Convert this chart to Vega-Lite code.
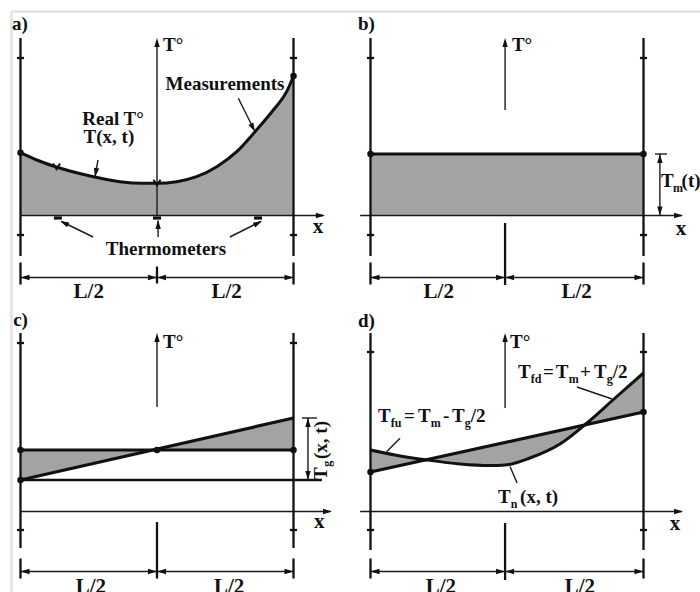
{
"$schema": "https://vega.github.io/schema/vega-lite/v6.json",
"padding": 0,
"background": "white",
"bounds": "flush",
"data": {"values": [
{"p":"a","k":"border","x":-0.033,"y":20.4,"x2":1.207,"y2":20.4},
{"p":"a","k":"border","x":-0.033,"y":20.4,"x2":-0.033,"y2":-8.05},
{"p":"b","k":"border","x":-0.075,"y":20.4,"x2":1.207,"y2":20.4},
{"p":"c","k":"border","x":-0.033,"y":21.55,"x2":-0.033,"y2":-8.05},

{"p":"a","k":"fill","x":0,"y":6.28,"y2":0},
{"p":"a","k":"fill","x":0.059,"y":5.55,"y2":0},
{"p":"a","k":"fill","x":0.12,"y":4.95,"y2":0},
{"p":"a","k":"fill","x":0.181,"y":4.45,"y2":0},
{"p":"a","k":"fill","x":0.267,"y":3.88,"y2":0},
{"p":"a","k":"fill","x":0.364,"y":3.38,"y2":0},
{"p":"a","k":"fill","x":0.45,"y":3.22,"y2":0},
{"p":"a","k":"fill","x":0.499,"y":3.22,"y2":0},
{"p":"a","k":"fill","x":0.572,"y":3.38,"y2":0},
{"p":"a","k":"fill","x":0.645,"y":3.88,"y2":0},
{"p":"a","k":"fill","x":0.719,"y":4.88,"y2":0},
{"p":"a","k":"fill","x":0.792,"y":6.38,"y2":0},
{"p":"a","k":"fill","x":0.859,"y":8.38,"y2":0},
{"p":"a","k":"fill","x":0.926,"y":10.55,"y2":0},
{"p":"a","k":"fill","x":0.975,"y":12.38,"y2":0},
{"p":"a","k":"fill","x":1,"y":13.95,"y2":0},
{"p":"a","k":"curve","x":0,"y":6.28},
{"p":"a","k":"curve","x":0.059,"y":5.55},
{"p":"a","k":"curve","x":0.12,"y":4.95},
{"p":"a","k":"curve","x":0.181,"y":4.45},
{"p":"a","k":"curve","x":0.267,"y":3.88},
{"p":"a","k":"curve","x":0.364,"y":3.38},
{"p":"a","k":"curve","x":0.45,"y":3.22},
{"p":"a","k":"curve","x":0.499,"y":3.22},
{"p":"a","k":"curve","x":0.572,"y":3.38},
{"p":"a","k":"curve","x":0.645,"y":3.88},
{"p":"a","k":"curve","x":0.719,"y":4.88},
{"p":"a","k":"curve","x":0.792,"y":6.38},
{"p":"a","k":"curve","x":0.859,"y":8.38},
{"p":"a","k":"curve","x":0.926,"y":10.55},
{"p":"a","k":"curve","x":0.975,"y":12.38},
{"p":"a","k":"curve","x":1,"y":13.95},
{"p":"a","k":"wall","x":0,"y":17.75,"x2":0,"y2":-4.05},
{"p":"a","k":"wall","x":1,"y":17.75,"x2":1,"y2":-4.05},
{"p":"a","k":"wall","x":-0.013,"y":15.75,"x2":0.013,"y2":15.75},
{"p":"a","k":"wall","x":0.987,"y":15.75,"x2":1.013,"y2":15.75},
{"p":"a","k":"wall","x":-0.013,"y":-1.95,"x2":0.013,"y2":-1.95},
{"p":"a","k":"wall","x":0.987,"y":-1.95,"x2":1.013,"y2":-1.95},
{"p":"a","k":"wall","x":0,"y":-4.7,"x2":0,"y2":-6.9},
{"p":"a","k":"wall","x":1,"y":-4.7,"x2":1,"y2":-6.9},
{"p":"a","k":"wall","x":0.5,"y":-5.1,"x2":0.5,"y2":-6.8},
{"p":"a","k":"thin","x":0,"y":0,"x2":1.11,"y2":0},
{"p":"a","k":"thin","x":0.5,"y":0,"x2":0.5,"y2":17.4},
{"p":"a","k":"thin","x":0,"y":-6.2,"x2":1,"y2":-6.2},
{"p":"a","k":"thin","x":0.284,"y":5.55,"x2":0.273,"y2":3.95},
{"p":"a","k":"thin","x":0.798,"y":11.72,"x2":0.855,"y2":8.6},
{"p":"a","k":"thin","x":0.266,"y":-2.15,"x2":0.15,"y2":-0.6},
{"p":"a","k":"thin","x":0.504,"y":-2.15,"x2":0.504,"y2":-0.5},
{"p":"a","k":"thin","x":0.767,"y":-2.15,"x2":0.88,"y2":-0.6},
{"p":"a","k":"head","x":1.115,"y":0,"a":90},
{"p":"a","k":"head","x":0.5,"y":17.75,"a":0},
{"p":"a","k":"head","x":0,"y":-6.2,"a":270},
{"p":"a","k":"head","x":0.5,"y":-6.2,"a":90},
{"p":"a","k":"head","x":0.5,"y":-6.2,"a":270},
{"p":"a","k":"head","x":1,"y":-6.2,"a":90},
{"p":"a","k":"head","x":0.273,"y":3.85,"a":190},
{"p":"a","k":"head","x":0.859,"y":8.38,"a":153},
{"p":"a","k":"head","x":0.145,"y":-0.55,"a":296},
{"p":"a","k":"head","x":0.504,"y":-0.45,"a":0},
{"p":"a","k":"head","x":0.885,"y":-0.55,"a":63},
{"p":"a","k":"dot","x":0,"y":6.28},
{"p":"a","k":"dot","x":1,"y":13.95},
{"p":"a","k":"xmark","x":0.132,"y":4.85},
{"p":"a","k":"xmark","x":0.5,"y":3.22},
{"p":"a","k":"sensor","x":0.137,"y":-0.25},
{"p":"a","k":"sensor","x":0.5,"y":-0.25},
{"p":"a","k":"sensor","x":0.87,"y":-0.25},
{"p":"a","k":"tc","x":0.339,"y":9.05,"t":"Real T°"},
{"p":"a","k":"tc","x":0.324,"y":7.25,"t":"T(x, t)"},
{"p":"a","k":"tc","x":0.749,"y":12.55,"t":"Measurements"},
{"p":"a","k":"tc","x":0.533,"y":-3.95,"t":"Thermometers"},
{"p":"a","k":"tl","x":0.522,"y":16.45,"t":"T°"},
{"p":"a","k":"tl","x":-0.031,"y":18.55,"t":"a)"},
{"p":"a","k":"big","x":0.25,"y":-8.2,"t":"L/2"},
{"p":"a","k":"big","x":0.755,"y":-8.2,"t":"L/2"},
{"p":"a","k":"big","x":1.09,"y":-1.75,"t":"x"},

{"p":"b","k":"fill","x":0,"y":6.15,"y2":0},
{"p":"b","k":"fill","x":1,"y":6.15,"y2":0},
{"p":"b","k":"wall","x":0,"y":17.75,"x2":0,"y2":-4.05},
{"p":"b","k":"wall","x":1,"y":17.75,"x2":1,"y2":-4.05},
{"p":"b","k":"wall","x":-0.013,"y":15.75,"x2":0.013,"y2":15.75},
{"p":"b","k":"wall","x":0.987,"y":15.75,"x2":1.013,"y2":15.75},
{"p":"b","k":"wall","x":-0.013,"y":-1.95,"x2":0.013,"y2":-1.95},
{"p":"b","k":"wall","x":0.987,"y":-1.95,"x2":1.013,"y2":-1.95},
{"p":"b","k":"wall","x":0,"y":-4.7,"x2":0,"y2":-6.9},
{"p":"b","k":"wall","x":1,"y":-4.7,"x2":1,"y2":-6.9},
{"p":"b","k":"wall","x":0.493,"y":-0.75,"x2":0.493,"y2":-6.95},
{"p":"b","k":"thin","x":-0.038,"y":0,"x2":1.14,"y2":0},
{"p":"b","k":"thin","x":0.493,"y":10.55,"x2":0.493,"y2":17.4},
{"p":"b","k":"thin","x":0,"y":-6.2,"x2":1,"y2":-6.2},
{"p":"b","k":"thin","x":1.06,"y":0,"x2":1.06,"y2":6.15},
{"p":"b","k":"thin","x":1.042,"y":6.15,"x2":1.086,"y2":6.15},
{"p":"b","k":"bold","x":0,"y":6.15,"x2":1,"y2":6.15},
{"p":"b","k":"dot","x":0,"y":6.15},
{"p":"b","k":"dot","x":1,"y":6.15},
{"p":"b","k":"head","x":1.145,"y":0,"a":90},
{"p":"b","k":"head","x":0.493,"y":17.75,"a":0},
{"p":"b","k":"head","x":0,"y":-6.2,"a":270},
{"p":"b","k":"head","x":0.493,"y":-6.2,"a":90},
{"p":"b","k":"head","x":0.493,"y":-6.2,"a":270},
{"p":"b","k":"head","x":1,"y":-6.2,"a":90},
{"p":"b","k":"head","x":1.06,"y":6.15,"a":0},
{"p":"b","k":"head","x":1.06,"y":0,"a":180},
{"p":"b","k":"tl","x":0.518,"y":16.45,"t":"T°"},
{"p":"b","k":"tl","x":-0.046,"y":18.55,"t":"b)"},
{"p":"b","k":"tl","x":1.064,"y":2.85,"t":"T"},
{"p":"b","k":"ts","x":1.108,"y":2.4,"t":"m"},
{"p":"b","k":"tl","x":1.1395,"y":2.85,"t":"(t)"},
{"p":"b","k":"big","x":0.25,"y":-8.2,"t":"L/2"},
{"p":"b","k":"big","x":0.755,"y":-8.2,"t":"L/2"},
{"p":"b","k":"big","x":1.137,"y":-1.95,"t":"x"},

{"p":"c","k":"fill","x":0,"y":3.15,"y2":6.15},
{"p":"c","k":"fill","x":0.5,"y":6.15,"y2":6.15},
{"p":"c","k":"fill","x":1,"y":9.35,"y2":6.15},
{"p":"c","k":"wall","x":0,"y":17.85,"x2":0,"y2":-3.65},
{"p":"c","k":"wall","x":1,"y":17.85,"x2":1,"y2":-3.65},
{"p":"c","k":"wall","x":-0.013,"y":16.85,"x2":0.013,"y2":16.85},
{"p":"c","k":"wall","x":0.987,"y":16.85,"x2":1.013,"y2":16.85},
{"p":"c","k":"wall","x":-0.013,"y":-1.85,"x2":0.013,"y2":-1.85},
{"p":"c","k":"wall","x":0.987,"y":-1.85,"x2":1.013,"y2":-1.85},
{"p":"c","k":"wall","x":0,"y":-4.7,"x2":0,"y2":-6.7},
{"p":"c","k":"wall","x":1,"y":-4.7,"x2":1,"y2":-6.7},
{"p":"c","k":"wall","x":0.5,"y":-1.05,"x2":0.5,"y2":-6.7},
{"p":"c","k":"wall","x":0,"y":3.15,"x2":1.104,"y2":3.15},
{"p":"c","k":"thin","x":0,"y":0,"x2":1.135,"y2":0},
{"p":"c","k":"thin","x":0.5,"y":10.45,"x2":0.5,"y2":17.5},
{"p":"c","k":"thin","x":0,"y":-6.0,"x2":1,"y2":-6.0},
{"p":"c","k":"thin","x":1.053,"y":3.15,"x2":1.053,"y2":9.35},
{"p":"c","k":"thin","x":1.031,"y":9.35,"x2":1.086,"y2":9.35},
{"p":"c","k":"bold","x":0,"y":6.15,"x2":1,"y2":6.15},
{"p":"c","k":"bold","x":0,"y":3.15,"x2":1,"y2":9.35},
{"p":"c","k":"dot","x":0,"y":6.15},
{"p":"c","k":"dot","x":0.5,"y":6.15},
{"p":"c","k":"dot","x":1,"y":6.15},
{"p":"c","k":"dot","x":0,"y":3.15},
{"p":"c","k":"head","x":1.141,"y":0,"a":90},
{"p":"c","k":"head","x":0.5,"y":17.85,"a":0},
{"p":"c","k":"head","x":0,"y":-6.0,"a":270},
{"p":"c","k":"head","x":0.5,"y":-6.0,"a":90},
{"p":"c","k":"head","x":0.5,"y":-6.0,"a":270},
{"p":"c","k":"head","x":1,"y":-6.0,"a":90},
{"p":"c","k":"head","x":1.053,"y":9.35,"a":0},
{"p":"c","k":"head","x":1.053,"y":3.15,"a":180},
{"p":"c","k":"tl","x":0.522,"y":16.35,"t":"T°"},
{"p":"c","k":"tl","x":-0.027,"y":18.55,"t":"c)"},
{"p":"c","k":"rot","x":1.1227,"y":3.15,"t":"T"},
{"p":"c","k":"rots","x":1.1374,"y":4.48,"t":"g"},
{"p":"c","k":"rot","x":1.1227,"y":5.25,"t":"(x, t)"},
{"p":"c","k":"big","x":0.258,"y":-8.1,"t":"L/2"},
{"p":"c","k":"big","x":0.764,"y":-8.1,"t":"L/2"},
{"p":"c","k":"big","x":1.094,"y":-1.65,"t":"x"},

{"p":"d","k":"fill","x":0,"y":6.15,"y2":3.95},
{"p":"d","k":"fill","x":0.0897,"y":5.65,"y2":4.49},
{"p":"d","k":"fill","x":0.207,"y":5.15,"y2":5.19},
{"p":"d","k":"fill","x":0.328,"y":4.75,"y2":5.92},
{"p":"d","k":"fill","x":0.438,"y":4.6,"y2":6.58},
{"p":"d","k":"fill","x":0.493,"y":4.65,"y2":6.91},
{"p":"d","k":"fill","x":0.584,"y":5.35,"y2":7.45},
{"p":"d","k":"fill","x":0.694,"y":6.75,"y2":8.11},
{"p":"d","k":"fill","x":0.793,"y":8.85,"y2":8.71},
{"p":"d","k":"fill","x":0.896,"y":11.35,"y2":9.33},
{"p":"d","k":"fill","x":1,"y":13.85,"y2":9.95},
{"p":"d","k":"curve","x":0,"y":6.15},
{"p":"d","k":"curve","x":0.0897,"y":5.65},
{"p":"d","k":"curve","x":0.207,"y":5.15},
{"p":"d","k":"curve","x":0.328,"y":4.75},
{"p":"d","k":"curve","x":0.438,"y":4.6},
{"p":"d","k":"curve","x":0.493,"y":4.65},
{"p":"d","k":"curve","x":0.584,"y":5.35},
{"p":"d","k":"curve","x":0.694,"y":6.75},
{"p":"d","k":"curve","x":0.793,"y":8.85},
{"p":"d","k":"curve","x":0.896,"y":11.35},
{"p":"d","k":"curve","x":1,"y":13.85},
{"p":"d","k":"wall","x":0,"y":17.85,"x2":0,"y2":-3.85},
{"p":"d","k":"wall","x":1,"y":17.85,"x2":1,"y2":-3.85},
{"p":"d","k":"wall","x":-0.013,"y":15.95,"x2":0.013,"y2":15.95},
{"p":"d","k":"wall","x":0.987,"y":15.95,"x2":1.013,"y2":15.95},
{"p":"d","k":"wall","x":-0.013,"y":-1.85,"x2":0.013,"y2":-1.85},
{"p":"d","k":"wall","x":0.987,"y":-1.85,"x2":1.013,"y2":-1.85},
{"p":"d","k":"wall","x":0,"y":-4.7,"x2":0,"y2":-6.7},
{"p":"d","k":"wall","x":1,"y":-4.7,"x2":1,"y2":-6.7},
{"p":"d","k":"wall","x":0.493,"y":-1.15,"x2":0.493,"y2":-6.85},
{"p":"d","k":"thin","x":-0.038,"y":0,"x2":1.14,"y2":0},
{"p":"d","k":"thin","x":0.493,"y":10.35,"x2":0.493,"y2":17.5},
{"p":"d","k":"thin","x":0,"y":-6.0,"x2":1,"y2":-6.0},
{"p":"d","k":"thin","x":0.108,"y":7.32,"x2":0.059,"y2":5.98},
{"p":"d","k":"thin","x":0.756,"y":12.45,"x2":0.885,"y2":11.25},
{"p":"d","k":"thin","x":0.537,"y":2.85,"x2":0.511,"y2":4.5},
{"p":"d","k":"bold","x":0,"y":3.95,"x2":1,"y2":9.95},
{"p":"d","k":"dot","x":0,"y":3.95},
{"p":"d","k":"dot","x":1,"y":9.95},
{"p":"d","k":"head","x":1.145,"y":0,"a":90},
{"p":"d","k":"head","x":0.493,"y":17.85,"a":0},
{"p":"d","k":"head","x":0,"y":-6.0,"a":270},
{"p":"d","k":"head","x":0.493,"y":-6.0,"a":90},
{"p":"d","k":"head","x":0.493,"y":-6.0,"a":270},
{"p":"d","k":"head","x":1,"y":-6.0,"a":90},
{"p":"d","k":"tl","x":0.511,"y":16.35,"t":"T°"},
{"p":"d","k":"tl","x":-0.046,"y":18.45,"t":"d)"},
{"p":"d","k":"tl","x":0.54,"y":13.35,"t":"T"},
{"p":"d","k":"ts","x":0.587,"y":12.9,"t":"fd"},
{"p":"d","k":"tl","x":0.632,"y":13.35,"t":"="},
{"p":"d","k":"tl","x":0.679,"y":13.35,"t":"T"},
{"p":"d","k":"ts","x":0.726,"y":12.9,"t":"m"},
{"p":"d","k":"tl","x":0.767,"y":13.35,"t":"+"},
{"p":"d","k":"tl","x":0.819,"y":13.35,"t":"T"},
{"p":"d","k":"ts","x":0.865,"y":12.9,"t":"g"},
{"p":"d","k":"tl","x":0.887,"y":13.35,"t":"/2"},
{"p":"d","k":"tl","x":0.0275,"y":8.95,"t":"T"},
{"p":"d","k":"ts","x":0.074,"y":8.5,"t":"fu"},
{"p":"d","k":"tl","x":0.1227,"y":8.95,"t":"="},
{"p":"d","k":"tl","x":0.174,"y":8.95,"t":"T"},
{"p":"d","k":"ts","x":0.2205,"y":8.5,"t":"m"},
{"p":"d","k":"tl","x":0.2656,"y":8.95,"t":"-"},
{"p":"d","k":"tl","x":0.2985,"y":8.95,"t":"T"},
{"p":"d","k":"ts","x":0.345,"y":8.5,"t":"g"},
{"p":"d","k":"tl","x":0.367,"y":8.95,"t":"/2"},
{"p":"d","k":"tl","x":0.467,"y":0.85,"t":"T"},
{"p":"d","k":"ts","x":0.5136,"y":0.4,"t":"n"},
{"p":"d","k":"tl","x":0.548,"y":0.85,"t":"(x, t)"},
{"p":"d","k":"big","x":0.258,"y":-8.1,"t":"L/2"},
{"p":"d","k":"big","x":0.767,"y":-8.1,"t":"L/2"},
{"p":"d","k":"big","x":1.115,"y":-1.85,"t":"x"}
]},
"transform": [
  {"lookup": "p", "from": {"data": {"values": [
    {"p": "a", "r": "top", "c": "left"},
    {"p": "b", "r": "top", "c": "right"},
    {"p": "c", "r": "bottom", "c": "left"},
    {"p": "d", "r": "bottom", "c": "right"}
  ]}, "key": "p", "fields": ["r", "c"]}}
],
"facet": {
  "row": {"field": "r", "type": "nominal", "sort": ["top", "bottom"], "title": null, "header": null},
  "column": {"field": "c", "type": "nominal", "sort": ["left", "right"], "title": null, "header": null}
},
"spacing": {"row": 0, "column": 0},
"spec": {
  "width": 350,
  "height": 296,
  "encoding": {
    "x": {"field": "x", "type": "quantitative", "scale": {"domain": [-0.07509, 1.20696], "nice": false, "zero": false}, "axis": null},
    "y": {"field": "y", "type": "quantitative", "scale": {"domain": [-8.05, 21.55], "nice": false, "zero": false}, "axis": null}
  },
  "layer": [
    {"transform": [{"filter": "datum.k === 'border'"}], "mark": {"type": "rule", "color": "#e2e2e2", "strokeWidth": 2.5}, "encoding": {"x2": {"field": "x2"}, "y2": {"field": "y2"}}},
    {"transform": [{"filter": "datum.k === 'fill'"}], "mark": {"type": "area", "color": "#a3a3a3", "opacity": 1, "interpolate": "monotone"}, "encoding": {"y2": {"field": "y2"}}},
    {"transform": [{"filter": "datum.k === 'thin'"}], "mark": {"type": "rule", "color": "#1a1a1a", "strokeWidth": 1.4}, "encoding": {"x2": {"field": "x2"}, "y2": {"field": "y2"}}},
    {"transform": [{"filter": "datum.k === 'wall'"}], "mark": {"type": "rule", "color": "#111", "strokeWidth": 2.3}, "encoding": {"x2": {"field": "x2"}, "y2": {"field": "y2"}}},
    {"transform": [{"filter": "datum.k === 'bold'"}], "mark": {"type": "rule", "color": "#111", "strokeWidth": 3.2}, "encoding": {"x2": {"field": "x2"}, "y2": {"field": "y2"}}},
    {"transform": [{"filter": "datum.k === 'curve'"}], "mark": {"type": "line", "color": "#111", "strokeWidth": 3, "interpolate": "monotone"}, "encoding": {}},
    {"transform": [{"filter": "datum.k === 'dot'"}], "mark": {"type": "point", "shape": "circle", "filled": true, "size": 42, "color": "#111", "opacity": 1}, "encoding": {}},
    {"transform": [{"filter": "datum.k === 'head'"}], "mark": {"type": "point", "shape": "M0,0L0.3,1L-0.3,1Z", "filled": true, "size": 324, "color": "#111", "opacity": 1, "strokeWidth": 0}, "encoding": {"angle": {"field": "a", "type": "quantitative", "scale": null}}},
    {"transform": [{"filter": "datum.k === 'sensor'"}], "mark": {"type": "point", "shape": "M-1,-0.4L1,-0.4L1,0.4L-1,0.4Z", "filled": true, "size": 64, "color": "#111", "opacity": 1, "strokeWidth": 0}, "encoding": {}},
    {"transform": [{"filter": "datum.k === 'xmark'"}], "mark": {"type": "point", "shape": "M-1,-1L0,0.6L1,-1", "filled": false, "size": 50, "color": "#111", "opacity": 1, "strokeWidth": 2}, "encoding": {}},
    {"transform": [{"filter": "datum.k === 'tc'"}], "mark": {"type": "text", "font": "Liberation Serif", "fontWeight": "bold", "fontSize": 19, "align": "center", "baseline": "alphabetic", "color": "#111"}, "encoding": {"text": {"field": "t"}}},
    {"transform": [{"filter": "datum.k === 'tl'"}], "mark": {"type": "text", "font": "Liberation Serif", "fontWeight": "bold", "fontSize": 19, "align": "left", "baseline": "alphabetic", "color": "#111"}, "encoding": {"text": {"field": "t"}}},
    {"transform": [{"filter": "datum.k === 'ts'"}], "mark": {"type": "text", "font": "Liberation Serif", "fontWeight": "bold", "fontSize": 12, "align": "left", "baseline": "alphabetic", "color": "#111"}, "encoding": {"text": {"field": "t"}}},
    {"transform": [{"filter": "datum.k === 'big'"}], "mark": {"type": "text", "font": "Liberation Serif", "fontWeight": "bold", "fontSize": 21, "align": "center", "baseline": "alphabetic", "color": "#111"}, "encoding": {"text": {"field": "t"}}},
    {"transform": [{"filter": "datum.k === 'rot'"}], "mark": {"type": "text", "font": "Liberation Serif", "fontWeight": "bold", "fontSize": 19, "align": "left", "baseline": "alphabetic", "angle": 270, "color": "#111"}, "encoding": {"text": {"field": "t"}}},
    {"transform": [{"filter": "datum.k === 'rots'"}], "mark": {"type": "text", "font": "Liberation Serif", "fontWeight": "bold", "fontSize": 12, "align": "left", "baseline": "alphabetic", "angle": 270, "color": "#111"}, "encoding": {"text": {"field": "t"}}}
  ]
},
"config": {"view": {"stroke": null}, "header": {"labels": false, "title": null, "labelPadding": 0, "titlePadding": 0}}
}
